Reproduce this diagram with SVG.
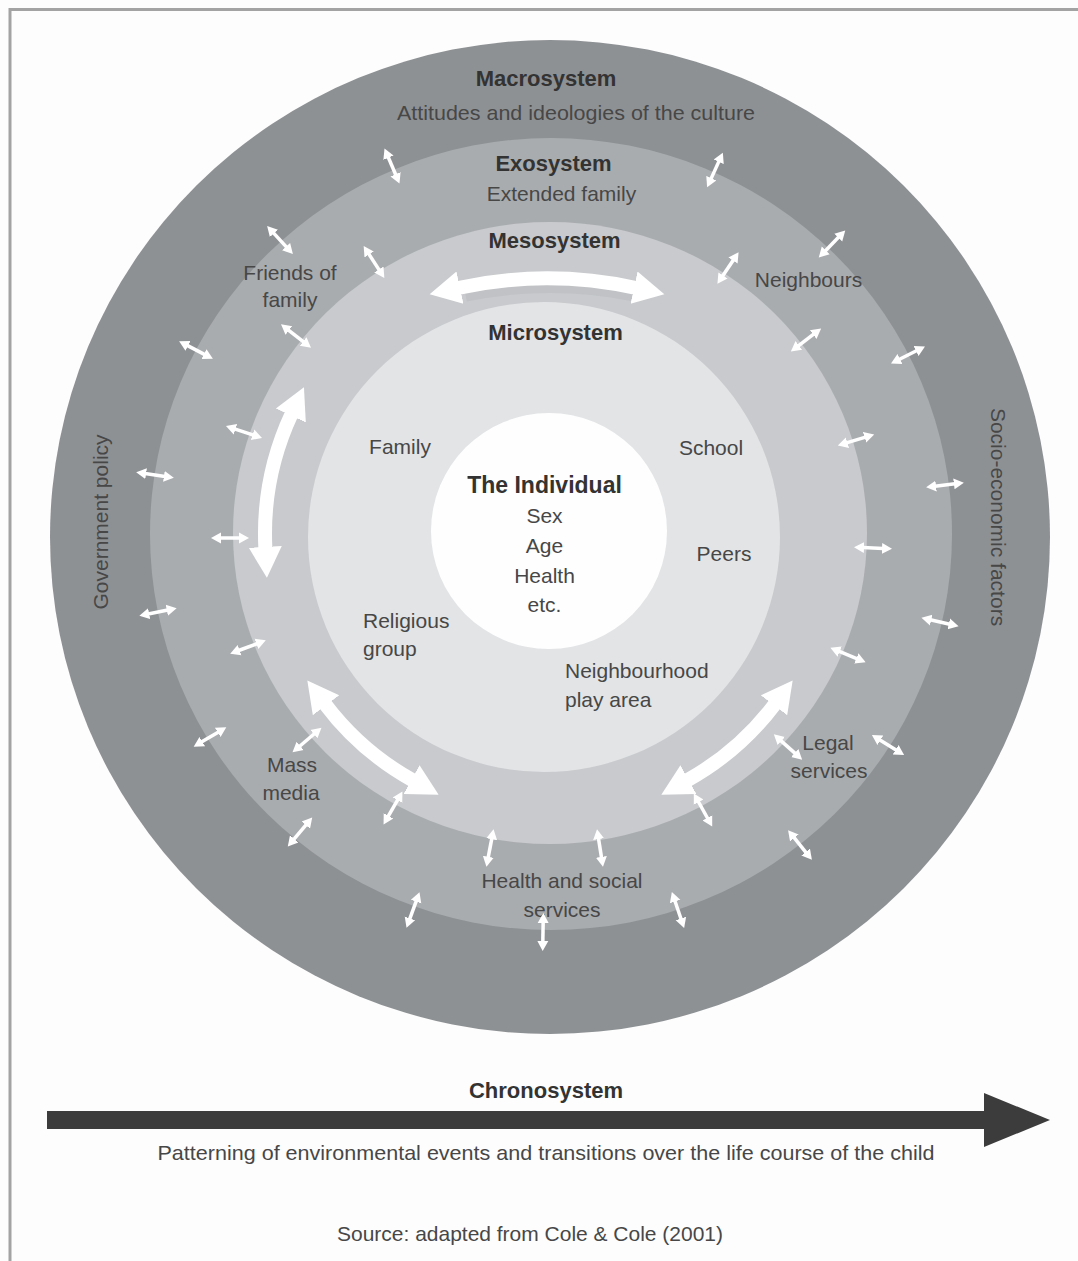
<svg xmlns="http://www.w3.org/2000/svg" width="1078" height="1261" viewBox="0 0 1078 1261">
<defs>
<style>
.t{font-family:"Liberation Sans",Arial,sans-serif;font-size:21px;fill:#474747;text-anchor:middle}
.b{font-weight:bold;font-size:22px;fill:#333333}
.l{text-anchor:start}
.sa{stroke:#ffffff;stroke-width:3.5;fill:none;marker-start:url(#sh);marker-end:url(#sh)}
.ba{stroke:#ffffff;stroke-width:14;fill:none;marker-start:url(#bh);marker-end:url(#bh)}
</style>
<marker id="sh" markerUnits="userSpaceOnUse" markerWidth="12" markerHeight="14" viewBox="0 -7 12 14" refX="1" refY="0" orient="auto-start-reverse"><path d="M0,-5.5 L10,0 L0,5.5Z" fill="#ffffff"/></marker>
<marker id="bh" markerUnits="userSpaceOnUse" markerWidth="34" markerHeight="36" viewBox="0 -18 34 36" refX="2" refY="0" orient="auto-start-reverse"><path d="M0,-16.5 L31,0 L0,16.5Z" fill="#ffffff"/></marker>
</defs>
<rect x="0" y="0" width="1078" height="1261" fill="#fdfdfd"/>
<path d="M10,1261 V9.5 H1078" fill="none" stroke="#a3a3a3" stroke-width="3"/>

<g id="macrosystem">
<ellipse cx="550" cy="537" rx="500" ry="497" fill="#8e9194"/>
<text class="t b" x="546" y="86">Macrosystem</text>
<text class="t" x="576" y="120" textLength="358" lengthAdjust="spacingAndGlyphs">Attitudes and ideologies of the culture</text>
<text class="t" transform="translate(108,522) rotate(-90)">Government policy</text>
<text class="t" transform="translate(991,517) rotate(90)">Socio-economic factors</text>
</g>

<g id="exosystem">
<ellipse cx="551" cy="534" rx="401" ry="396" fill="#a9acaf"/>
<text class="t b" x="553.5" y="171">Exosystem</text>
<text class="t" x="561.5" y="201">Extended family</text>
<text class="t" x="290" y="280">Friends of</text>
<text class="t" x="290" y="307">family</text>
<text class="t" x="808.5" y="287">Neighbours</text>
<text class="t" x="292" y="772">Mass</text>
<text class="t" x="291" y="800">media</text>
<text class="t" x="828" y="750">Legal</text>
<text class="t" x="829" y="778">services</text>
<text class="t" x="562" y="888">Health and social</text>
<text class="t" x="562" y="917">services</text>
</g>

<g id="mesosystem">
<ellipse cx="550" cy="533" rx="317" ry="311" fill="#c8cacd"/>
<path d="M466,297 A420,420 0 0 1 634,297" fill="none" stroke="#c0c2c5" stroke-width="9"/>
<text class="t b" x="554.5" y="248">Mesosystem</text>
</g>

<g id="microsystem">
<ellipse cx="544" cy="537" rx="236" ry="235" fill="#e2e4e6"/>
<text class="t b" x="555.5" y="340">Microsystem</text>
<text class="t" x="400" y="454">Family</text>
<text class="t" x="711" y="455">School</text>
<text class="t" x="724" y="561">Peers</text>
<text class="t l" x="363" y="628">Religious</text>
<text class="t l" x="363" y="656">group</text>
<text class="t l" x="565" y="678">Neighbourhood</text>
<text class="t l" x="565" y="707">play area</text>
</g>

<g id="individual">
<circle cx="549" cy="531" r="118" fill="#fefefe"/>
<text class="t b" x="544.5" y="493" style="font-size:23px">The Individual</text>
<text class="t" x="544.5" y="523">Sex</text>
<text class="t" x="544.5" y="553">Age</text>
<text class="t" x="544.5" y="583">Health</text>
<text class="t" x="544.5" y="612">etc.</text>
</g>

<g id="chronosystem">
<rect x="47" y="1111" width="940" height="18" fill="#3c3c3c"/>
<polygon points="984,1093 1050,1120 984,1147" fill="#3c3c3c"/>
<text class="t b" x="546" y="1098">Chronosystem</text>
<text class="t" x="546" y="1160" textLength="777" lengthAdjust="spacingAndGlyphs">Patterning of environmental events and transitions over the life course of the child</text>
<text class="t" x="530" y="1241" textLength="386" lengthAdjust="spacingAndGlyphs">Source: adapted from Cole &amp; Cole (2001)</text>
</g>

<g id="connectors">
<path class="ba" d="M458,288 A420,420 0 0 1 636,288"/>
<path class="ba" d="M291.7,413.6 A285,285 0 0 0 265.4,548.9"/>
<path class="ba" d="M324.8,703.7 A282,282 0 0 0 413.3,780.6"/>
<path class="ba" d="M775.2,703.7 A282,282 0 0 1 686.7,780.6"/>

<line class="sa" x1="-10" y1="0" x2="10" y2="0" transform="translate(392,166) rotate(-113.2)"/>
<line class="sa" x1="-10" y1="0" x2="10" y2="0" transform="translate(715,170) rotate(-65.6)"/>
<line class="sa" x1="-10" y1="0" x2="10" y2="0" transform="translate(280,240) rotate(-132.6)"/>
<line class="sa" x1="-10" y1="0" x2="10" y2="0" transform="translate(832,244) rotate(-45.8)"/>
<line class="sa" x1="-10" y1="0" x2="10" y2="0" transform="translate(196,350) rotate(-152.5)"/>
<line class="sa" x1="-10" y1="0" x2="10" y2="0" transform="translate(908,355) rotate(-26.6)"/>
<line class="sa" x1="-10" y1="0" x2="10" y2="0" transform="translate(155,475) rotate(-171.5)"/>
<line class="sa" x1="-10" y1="0" x2="10" y2="0" transform="translate(945,485) rotate(-7.1)"/>
<line class="sa" x1="-10" y1="0" x2="10" y2="0" transform="translate(158,612) rotate(168.7)"/>
<line class="sa" x1="-10" y1="0" x2="10" y2="0" transform="translate(940,622) rotate(12.7)"/>
<line class="sa" x1="-10" y1="0" x2="10" y2="0" transform="translate(210,737) rotate(149.2)"/>
<line class="sa" x1="-10" y1="0" x2="10" y2="0" transform="translate(888,745) rotate(32)"/>
<line class="sa" x1="-10" y1="0" x2="10" y2="0" transform="translate(300,832) rotate(130)"/>
<line class="sa" x1="-10" y1="0" x2="10" y2="0" transform="translate(800,845) rotate(51.2)"/>
<line class="sa" x1="-10" y1="0" x2="10" y2="0" transform="translate(413,910) rotate(110)"/>
<line class="sa" x1="-10" y1="0" x2="10" y2="0" transform="translate(543,932) rotate(91)"/>
<line class="sa" x1="-10" y1="0" x2="10" y2="0" transform="translate(678,910) rotate(71.2)"/>

<line class="sa" x1="-10" y1="0" x2="10" y2="0" transform="translate(374,262) rotate(-122.9)"/>
<line class="sa" x1="-10" y1="0" x2="10" y2="0" transform="translate(728,268) rotate(-56.2)"/>
<line class="sa" x1="-10" y1="0" x2="10" y2="0" transform="translate(296,336) rotate(-142.1)"/>
<line class="sa" x1="-10" y1="0" x2="10" y2="0" transform="translate(806,340) rotate(-37.2)"/>
<line class="sa" x1="-10" y1="0" x2="10" y2="0" transform="translate(244,432) rotate(-161.6)"/>
<line class="sa" x1="-10" y1="0" x2="10" y2="0" transform="translate(856,440) rotate(-17.1)"/>
<line class="sa" x1="-10" y1="0" x2="10" y2="0" transform="translate(230,538) rotate(0)"/>
<line class="sa" x1="-10" y1="0" x2="10" y2="0" transform="translate(873,548) rotate(2.5)"/>
<line class="sa" x1="-10" y1="0" x2="10" y2="0" transform="translate(248,647) rotate(159.5)"/>
<line class="sa" x1="-10" y1="0" x2="10" y2="0" transform="translate(848,655) rotate(22.1)"/>
<line class="sa" x1="-10" y1="0" x2="10" y2="0" transform="translate(307,740) rotate(139.7)"/>
<line class="sa" x1="-10" y1="0" x2="10" y2="0" transform="translate(788,747) rotate(41.8)"/>
<line class="sa" x1="-10" y1="0" x2="10" y2="0" transform="translate(393,808) rotate(119.8)"/>
<line class="sa" x1="-10" y1="0" x2="10" y2="0" transform="translate(490,848) rotate(100.8)"/>
<line class="sa" x1="-10" y1="0" x2="10" y2="0" transform="translate(600,848) rotate(81)"/>
<line class="sa" x1="-10" y1="0" x2="10" y2="0" transform="translate(703,810) rotate(61)"/>
</g>
</svg>
